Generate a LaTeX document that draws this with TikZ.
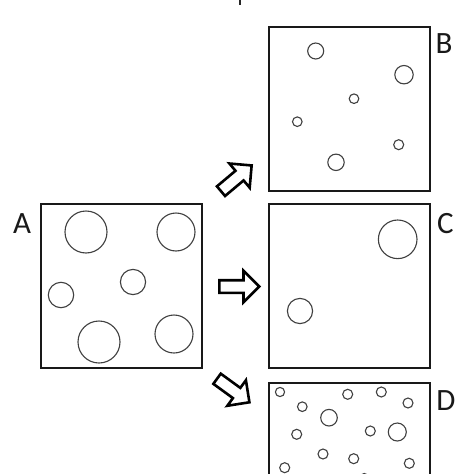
\documentclass[tikz,border=0pt]{standalone}
\usepackage{fontspec}
\setmainfont{Carlito}
\usetikzlibrary{shapes.arrows}
\begin{document}
\begin{tikzpicture}[x=1pt,y=-1pt,
  panel/.style={draw=black!90,line width=2pt,minimum width=161pt,minimum height=164pt,inner sep=0pt},
  dot/.style={draw=black!75,line width=1.1pt},
  lab/.style={font=\fontsize{31}{31}\selectfont,inner sep=0pt,text=black!90},
  blockarrow/.style={single arrow,draw=black,line width=2.6pt,line join=miter,inner sep=5pt,
     minimum height=40pt,single arrow head extend=9.5pt,anchor=tail}]
\useasboundingbox (0,0) rectangle (474,474);
\clip (0,0) rectangle (474,474);
\fill[white] (0,0) rectangle (474,474);
% stray mark at top
\draw[black!85,line width=1.5pt] (240,0) -- (240,5);
% panels
\node[panel] (A) at (121.5,286) {};
\node[panel] (B) at (349.5,108.5) {};
\node[panel] (C) at (349.5,286) {};
\node[panel] (D) at (349.5,465) {};
% labels
\node[lab] (lA) at (22,224) {A};
\node[lab] (lB) at (444,44) {B};
\node[lab] (lC) at (445.5,223.5) {C};
\node[lab] (lD) at (446,401) {D};
% circles in A
\draw[dot] (86,232) circle (21);
\draw[dot] (176,232) circle (19);
\draw[dot] (61,295) circle (12.7);
\draw[dot] (133,282) circle (12.6);
\draw[dot] (99,342) circle (21);
\draw[dot] (174,334) circle (19);
% circles in B
\draw[dot] (315.7,51) circle (8);
\draw[dot] (404,74.7) circle (9.2);
\draw[dot] (354,98.7) circle (4.8);
\draw[dot] (297.3,121.7) circle (4.8);
\draw[dot] (398.7,144.7) circle (5);
\draw[dot] (336,162.3) circle (8.2);
% circles in C
\draw[dot] (397.7,239.3) circle (19.3);
\draw[dot] (300,311) circle (12.6);
% circles in D
\draw[dot] (280,392) circle (4.6);
\draw[dot] (302.3,406.7) circle (4.8);
\draw[dot] (329,417.7) circle (8.3);
\draw[dot] (347.7,394.3) circle (5);
\draw[dot] (381.3,392) circle (5);
\draw[dot] (408,403) circle (5);
\draw[dot] (296.7,434.3) circle (5);
\draw[dot] (370.3,431) circle (5);
\draw[dot] (397.3,432) circle (9);
\draw[dot] (323,454) circle (5);
\draw[dot] (353.7,458.7) circle (5);
\draw[dot] (409.3,463.3) circle (5);
\draw[dot] (284.7,467.7) circle (5);
\draw[dot] (364.3,478.5) circle (5);
% block arrows
\node[blockarrow,rotate=40] (aB) at (220,192) {};
\node[blockarrow] (aC) at (218,286.5) {};
\node[blockarrow,rotate=-36] (aD) at (216,378) {};
\end{tikzpicture}
\end{document}
